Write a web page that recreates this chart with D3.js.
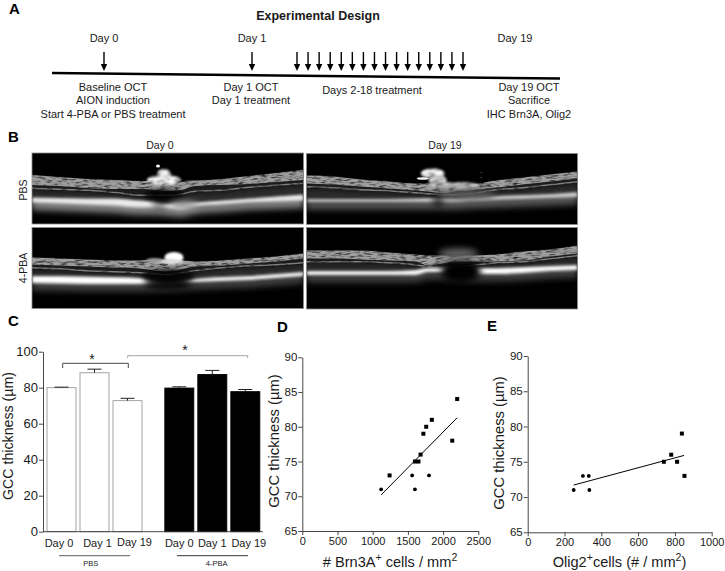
<!DOCTYPE html>
<html>
<head>
<meta charset="utf-8">
<script src="https://cdn.jsdelivr.net/npm/d3@7"></script>
<style>
html, body { margin: 0; padding: 0; background: #fff; }
svg { display: block; }
text { font-family: "Liberation Sans", Arial, sans-serif; fill: #1a1a1a; }
</style>
</head>
<body>
<div id="chart"></div>
<script>
// panel C
var barDays = ["Day 0", "Day 1", "Day 19", "Day 0", "Day 1", "Day 19"];
var barValues = [80, 88.3, 72.8, 79.8, 87.3, 77.8];
var barErrors = [0.3, 2, 1.3, 0.7, 2.3, 1.2];
var barSlots = [0, 1, 2, 3.57, 4.57, 5.57];
var barGroups = ["PBS", "PBS", "PBS", "4-PBA", "4-PBA", "4-PBA"];

// panel D
var brnCells = [1120, 1560, 1600, 1800, 1240, 1600, 1650, 1680, 1720, 1760, 1840, 2130, 2200];
var brnThick = [71, 73, 71, 73, 73, 75, 75, 76, 79, 80, 81, 78, 84];
var brnShape = ["c", "c", "c", "c", "s", "s", "s", "s", "s", "s", "s", "s", "s"];
var brnFitX = [1120, 2200];
var brnFitY = [70.2, 81.3];

// panel E
var oligCells = [250, 300, 332, 335, 740, 780, 812, 838, 852];
var oligThick = [71, 73, 73, 71, 75, 76, 75, 79, 73];
var oligShape = ["c", "c", "c", "c", "s", "s", "s", "s", "s"];
var oligFitX = [250, 850];
var oligFitY = [71.7, 75.9];

// panel A
var treatmentDays = [2, 3, 4, 5, 6, 7, 8, 9, 10, 11, 12, 13, 14, 15, 16, 17];

// panel B, scan layers read as depth below the top of each scan, at percent of its width
var scanX = [0, 10, 20, 30, 40, 45, 50, 55, 60, 70, 80, 90, 100];

var p1Top = [22, 24, 26, 27, 28, 28, 28, 29, 28, 26, 23, 20, 17];
var p1Nerve = [32, 33, 35, 36, 36, 37, 38, 37, 33, 32, 31, 29, 27];
var p1Inner = [35, 36, 37, 39, 42, 42, 42, 41, 38, 37, 34, 32, 30];
var p1RpeTop = [44, 44.5, 45, 45, 47, 48, 50, 50, 49, 47, 45, 43, 41];
var p1RpeBot = [50, 51, 52, 53, 55, 55, 56, 57, 54, 52, 50, 49, 48];

var p2Top = [22, 23, 26, 28, 30, 30, 30, 31, 31, 27, 24, 21, 18];
var p2Nerve = [30, 31, 33, 35, 37, 38, 40, 38, 37, 34, 31, 28, 25];
var p2Inner = [33, 34, 36, 37, 39, 40, 41, 41, 40, 36, 34, 31, 28];
var p2RpeTop = [45, 45, 45, 45, 44.5, 44, 44, 44, 43, 42, 41, 40, 38];
var p2RpeBot = [49, 49, 49, 49, 49, 49, 49, 49, 48, 47, 46, 45, 44];

var p3Top = [30, 31, 32, 33, 33, 32, 33, 33, 34, 33, 31, 29, 26];
var p3Nerve = [37, 38, 39, 40, 41, 43, 44, 42, 39, 38, 36, 34, 31];
var p3Inner = [40, 41, 43, 44, 45, 46, 47, 45, 43, 40, 38, 37, 35];
var p3RpeTop = [48, 48, 48.5, 49, 50, 53, 54, 53, 51, 49, 48, 46, 44];
var p3RpeBot = [56, 56.5, 57, 57, 57, 57, 57, 56, 55, 54, 53, 51, 49];

var p4Top = [23, 23, 23, 25, 27, 28, 28, 28, 28, 27, 24, 22, 18];
var p4Nerve = [31, 31, 32, 33, 34, 38, 36, 34, 34, 34, 33, 29, 26];
var p4Inner = [34, 34, 34, 35, 37, 39, 40, 39, 38, 35, 34, 31, 28];
var p4RpeTop = [43, 43, 43, 43, 42, 40, 40, 40, 40, 40, 39, 38, 37];
var p4RpeBot = [48, 48, 48, 48, 48, 45, 45, 46, 47, 47, 46, 44, 43];

// blobs: x percent, depth, radius x, radius y, grey level, filter id
var p1Blobs = [
    [48.6, 27, 17, 5, 1, "grainB"], [48.6, 21, 7, 5, 0.95, "grainB"], [46.4, 13, 2, 1.6, 1, "b05"],
    [56, 52, 14, 4, 0.6, "b3"], [60, 28, 12, 0.5, 0.6, "b05"]
];
var p1Shade = [[48.6, 42, 20, 6, 0.8, "b2"], [47, 50, 8, 5, 0.5, "b3"]];
var p2Blobs = [
    [46.6, 20, 12, 5, 1, "grainB"], [48.4, 27, 9, 6, 0.85, "grainB"], [42.9, 25, 6, 1.3, 0.95, "b05"],
    [55, 32, 24, 3.5, 0.8, "grainB"], [59, 41, 30, 5, 0.35, "b3"], [64.5, 19, 0.8, 0.8, 0.3, "b05"], [64.5, 24, 0.8, 0.8, 0.3, "b05"]
];
var p2Shade = [[48.6, 46, 6, 8, 0.6, "b3"]];
var p3Blobs = [[52.3, 30, 9.5, 5.5, 1, "b1"], [50.5, 34, 14, 2.5, 0.85, "b1"], [45, 33, 8, 2.5, 0.6, "b1"]];
var p3Shade = [[50, 48, 26, 7, 0.75, "b2"], [50, 56, 24, 6, 0.9, "b3"], [48.6, 37, 4, 1, 0.8, "b05"]];
var p4Blobs = [[56, 26, 20, 5, 0.4, "b3"]];
var p4Shade = [[57, 44, 20, 11, 1, "b3"]];

var scans = [
    { top: p1Top, nerve: p1Nerve, inner: p1Inner, rpeTop: p1RpeTop, rpeBot: p1RpeBot, blobs: p1Blobs, shade: p1Shade, x: 32, y: 153, w: 271.5, h: 71, rpe: 0.92, halo: 0.5 },
    { top: p2Top, nerve: p2Nerve, inner: p2Inner, rpeTop: p2RpeTop, rpeBot: p2RpeBot, blobs: p2Blobs, shade: p2Shade, x: 306.5, y: 153.5, w: 271, h: 71, rpe: 0.82, halo: 0.35 },
    { top: p3Top, nerve: p3Nerve, inner: p3Inner, rpeTop: p3RpeTop, rpeBot: p3RpeBot, blobs: p3Blobs, shade: p3Shade, x: 32, y: 227.5, w: 271.5, h: 81, rpe: 1, halo: 0.25 },
    { top: p4Top, nerve: p4Nerve, inner: p4Inner, rpeTop: p4RpeTop, rpeBot: p4RpeBot, blobs: p4Blobs, shade: p4Shade, x: 306.5, y: 227.5, w: 271, h: 81.5, rpe: 1, halo: 0.25 }
];

var grey = function(v) {
    var c = Math.round(v * 255);
    return "rgb(" + c + "," + c + "," + c + ")";
};

var svg = d3.select("#chart").append("svg").attr("width", 725).attr("height", 571);
var defs = svg.append("defs");

function blur(id, s) {
    defs.append("filter").attr("id", id).attr("x", "-40%").attr("y", "-100%").attr("width", "180%").attr("height", "300%")
        .append("feGaussianBlur").attr("stdDeviation", s);
}
blur("b05", 0.5);
blur("b1", 1);
blur("b15", 1.4);
blur("b2", 2);
blur("b3", 3);

function grainFilter(id, s) {
    var f = defs.append("filter").attr("id", id).attr("x", "-20%").attr("y", "-40%").attr("width", "140%").attr("height", "180%")
        .attr("color-interpolation-filters", "sRGB");
    f.append("feTurbulence").attr("type", "fractalNoise").attr("baseFrequency", "0.14 0.5").attr("numOctaves", 2).attr("seed", 4).attr("result", "n");
    f.append("feColorMatrix").attr("in", "n").attr("type", "matrix")
        .attr("values", "1.9 0 0 0 -0.05 1.9 0 0 0 -0.05 1.9 0 0 0 -0.05 0 0 0 0 1").attr("result", "g");
    f.append("feComposite").attr("in", "SourceGraphic").attr("in2", "g").attr("operator", "arithmetic")
        .attr("k1", 1).attr("k2", 0).attr("k3", 0).attr("k4", 0).attr("result", "m");
    f.append("feGaussianBlur").attr("in", "m").attr("stdDeviation", s);
}
grainFilter("grain", 0.7);
grainFilter("grainB", 1.2);

function label(g, x, y, s, size, weight, anchor) {
    return g.append("text").attr("x", x).attr("y", y).attr("font-size", size)
        .attr("font-weight", weight || "normal").attr("text-anchor", anchor || "middle").text(s);
}

// panel letters
[["A", 9, 14], ["B", 8, 142], ["C", 8, 326], ["D", 277, 332], ["E", 487, 331]].forEach(function(d) {
    label(svg, d[1], d[2], d[0], 15, "bold", "start").style("fill", "#000");
});

// A: timeline
var a = svg.append("g");
label(a, 318, 20, "Experimental Design", 12.5, "bold");
a.append("line").attr("x1", 52).attr("y1", 73).attr("x2", 560).attr("y2", 78.5).attr("stroke", "#000").attr("stroke-width", 2.4);

var treatX = d3.scaleLinear().domain([2, 17]).range([297, 463]);

function arrow(x, y0, y1) {
    a.append("line").attr("x1", x).attr("y1", y0).attr("x2", x).attr("y2", y1 - 4).attr("stroke", "#000").attr("stroke-width", 1.4);
    a.append("path").attr("d", "M" + (x - 3.2) + "," + (y1 - 7) + "L" + (x + 3.2) + "," + (y1 - 7) + "L" + x + "," + y1 + "Z").attr("fill", "#000");
}
arrow(104, 52, 71);
arrow(252, 52, 71);
treatmentDays.forEach(function(d) { arrow(treatX(d), 52, 71); });

[["Day 0", 104, 42], ["Day 1", 252, 42], ["Day 19", 515, 42],
 ["Baseline OCT", 113, 91], ["AION induction", 113, 104], ["Start 4-PBA or PBS treatment", 113, 118],
 ["Day 1 OCT", 251, 91], ["Day 1 treatment", 251, 104], ["Days 2-18 treatment", 372, 94],
 ["Day 19 OCT", 529, 91], ["Sacrifice", 529, 104], ["IHC Brn3A, Olig2", 529, 118]].forEach(function(d) {
    label(a, d[1], d[2], d[0], 11);
});

// B: OCT scans
label(svg, 160, 149, "Day 0", 10.5);
label(svg, 445, 149, "Day 19", 10.5);
label(svg, 0, 0, "PBS", 10.5).attr("transform", "translate(27,190) rotate(-90)");
label(svg, 0, 0, "4-PBA", 10.5).attr("transform", "translate(27,268) rotate(-90)");

scans.forEach(function(s, i) {
    var x = d3.scaleLinear().domain([0, 100]).range([0, s.w]);
    var g = svg.append("g").attr("transform", "translate(" + s.x + "," + s.y + ")");
    defs.append("clipPath").attr("id", "scan" + i).append("rect").attr("width", s.w).attr("height", s.h);
    g.append("rect").attr("width", s.w).attr("height", s.h).attr("fill", "#000");
    var c = g.append("g").attr("clip-path", "url(#scan" + i + ")");

    var band = function(top, bot, fill, filter) {
        var area = d3.area().curve(d3.curveMonotoneX)
            .x(function(d) { return x(d); })
            .y0(function(d, j) { return top(j); })
            .y1(function(d, j) { return bot(j); });
        c.append("path").attr("d", area(scanX)).attr("fill", fill).attr("filter", "url(#" + filter + ")");
    };
    var at = function(arr, dy) { return function(j) { return arr[j] + (dy || 0); }; };

    band(at(s.rpeTop, 2), at(s.rpeBot, 7), grey(s.halo), "b3");
    band(at(s.top), at(s.rpeTop), grey(0.1), "b1");
    band(at(s.top), at(s.nerve), grey(0.62), "grain");
    band(at(s.inner, -0.5), at(s.inner, 1), grey(0.5), "grain");
    band(at(s.inner, 4), at(s.rpeTop), grey(0.17), "b15");
    band(at(s.rpeTop, 0.5), at(s.rpeBot, -0.5), grey(s.rpe), "b15");

    s.shade.forEach(function(d) {
        c.append("ellipse").attr("cx", x(d[0])).attr("cy", d[1]).attr("rx", d[2]).attr("ry", d[3])
            .attr("fill", "#000").attr("opacity", d[4]).attr("filter", "url(#" + d[5] + ")");
    });
    s.blobs.forEach(function(d) {
        c.append("ellipse").attr("cx", x(d[0])).attr("cy", d[1]).attr("rx", d[2]).attr("ry", d[3])
            .attr("fill", grey(d[4])).attr("filter", "url(#" + d[5] + ")");
    });
    g.append("rect").attr("width", s.w).attr("height", s.h).attr("fill", "none").attr("stroke", "#8c8c8c").attr("stroke-width", 0.8);
});

function styleAxis(g, size) {
    g.selectAll("path, line").attr("stroke", "#333").attr("stroke-width", 0.9);
    g.selectAll("text").attr("font-size", size).style("font-family", '"Liberation Sans", Arial, sans-serif').style("fill", "#1a1a1a");
}

// C: bars
var c = svg.append("g");
var yC = d3.scaleLinear().domain([0, 100]).range([531.7, 351.7]);
var xC = d3.scaleLinear().domain([0, 1]).range([47, 80]);
var barW = 29;
var dayDx = [-2.5, 3, 7, 0, 0, 3.5];
var dayDy = [0, 0, -1, 0, 0, 0];

c.selectAll("rect.bar").data(barValues).enter().append("rect").attr("class", "bar")
    .attr("x", function(d, i) { return xC(barSlots[i]); })
    .attr("y", function(d) { return yC(d); })
    .attr("width", barW)
    .attr("height", function(d) { return yC(0) - yC(d); })
    .attr("fill", function(d, i) { return barGroups[i] == "PBS" ? "#fff" : "#000"; })
    .attr("stroke", function(d, i) { return barGroups[i] == "PBS" ? "#999" : "#000"; })
    .attr("stroke-width", 0.9);

barValues.forEach(function(v, i) {
    var cx = xC(barSlots[i]) + barW / 2;
    c.append("path").attr("d", "M" + cx + "," + yC(v) + "V" + yC(v + barErrors[i]) + "M" + (cx - 7) + "," + yC(v + barErrors[i]) + "H" + (cx + 7))
        .attr("fill", "none").attr("stroke", "#222").attr("stroke-width", 1);
    label(c, cx + dayDx[i], 547 + dayDy[i], barDays[i], 11);
});

var axC = c.append("g").attr("transform", "translate(43,0)").call(d3.axisLeft(yC).tickValues([0, 20, 40, 60, 80, 100]).tickSize(4).tickSizeOuter(0).tickPadding(1));
styleAxis(axC, 13);
c.append("line").attr("x1", 43).attr("x2", 263).attr("y1", yC(0)).attr("y2", yC(0)).attr("stroke", "#333").attr("stroke-width", 0.9);
label(c, 0, 0, "GCC thickness (\u00b5m)", 14.2).attr("transform", "translate(12.5,436) rotate(-90)");

c.append("path").attr("d", "M62.7,368V363.3H128.3V368").attr("fill", "none").attr("stroke", "#333").attr("stroke-width", 0.9);
c.append("path").attr("d", "M127.7,358V355.7H247.7V358").attr("fill", "none").attr("stroke", "#999").attr("stroke-width", 0.9);
label(c, 92, 364, "*", 14);
label(c, 185, 355, "*", 14);

c.append("line").attr("x1", 59).attr("x2", 130).attr("y1", 555.7).attr("y2", 555.7).attr("stroke", "#333").attr("stroke-width", 0.8);
c.append("line").attr("x1", 177).attr("x2", 248).attr("y1", 555.7).attr("y2", 555.7).attr("stroke", "#000").attr("stroke-width", 0.8);
label(c, 90.7, 566, "PBS", 7.5);
label(c, 216.7, 566, "4-PBA", 7.5);

// D, E: scatter
function scatter(o) {
    var g = svg.append("g");
    var x = d3.scaleLinear().domain(o.xDomain).range(o.xRange);
    var y = d3.scaleLinear().domain([65, 90]).range(o.yRange);
    var axY = g.append("g").attr("transform", "translate(" + o.xRange[0] + ",0)")
        .call(d3.axisLeft(y).tickValues([65, 70, 75, 80, 85, 90]).tickSize(4).tickSizeOuter(0).tickPadding(1));
    styleAxis(axY, 11.5);
    var axX = g.append("g").attr("transform", "translate(0," + o.yRange[0] + ")")
        .call(d3.axisBottom(x).tickValues(o.xTicks).tickFormat(d3.format("d")).tickSize(4).tickSizeOuter(0).tickPadding(2));
    styleAxis(axX, 11);

    g.append("line").attr("x1", x(o.fitX[0])).attr("y1", y(o.fitY[0])).attr("x2", x(o.fitX[1])).attr("y2", y(o.fitY[1]))
        .attr("stroke", "#000").attr("stroke-width", 1);

    o.xs.forEach(function(v, i) {
        if (o.shapes[i] == "c") {
            g.append("circle").attr("cx", x(v)).attr("cy", y(o.ys[i])).attr("r", 1.9).attr("fill", "#000");
        } else {
            g.append("rect").attr("x", x(v) - 2).attr("y", y(o.ys[i]) - 2).attr("width", 4).attr("height", 4).attr("fill", "#000");
        }
    });
    label(g, 0, 0, "GCC thickness (\u00b5m)", 14.8).attr("transform", "translate(" + o.yLabelX + "," + o.yLabelY + ") rotate(-90)");
    return g;
}

var gD = scatter({ xDomain: [0, 2500], xRange: [302.3, 478.3], yRange: [531, 357.3], xTicks: [0, 500, 1000, 1500, 2000, 2500],
    xs: brnCells, ys: brnThick, shapes: brnShape, fitX: brnFitX, fitY: brnFitY, yLabelX: 279, yLabelY: 441 });
var gE = scatter({ xDomain: [0, 1000], xRange: [527.7, 711.7], yRange: [532.3, 356], xTicks: [0, 200, 400, 600, 800, 1000],
    xs: oligCells, ys: oligThick, shapes: oligShape, fitX: oligFitX, fitY: oligFitY, yLabelX: 504, yLabelY: 443 });

function xTitle(g, x, parts) {
    var t = g.append("text").attr("x", x).attr("y", 567).attr("font-size", 14.6).attr("text-anchor", "middle");
    parts.forEach(function(p) {
        var sp = t.append("tspan").text(p[0]);
        if (p[1]) sp.attr("font-size", 10.5).attr("dy", -6);
        if (p[2]) sp.attr("dy", 6);
    });
}
xTitle(gD, 390, [["# Brn3A"], ["+", 1], [" cells / mm", 0, 1], ["2", 1]]);
xTitle(gE, 619.5, [["Olig2"], ["+", 1], ["cells (# / mm", 0, 1], ["2", 1], [")", 0, 1]]);
</script>
</body>
</html>
